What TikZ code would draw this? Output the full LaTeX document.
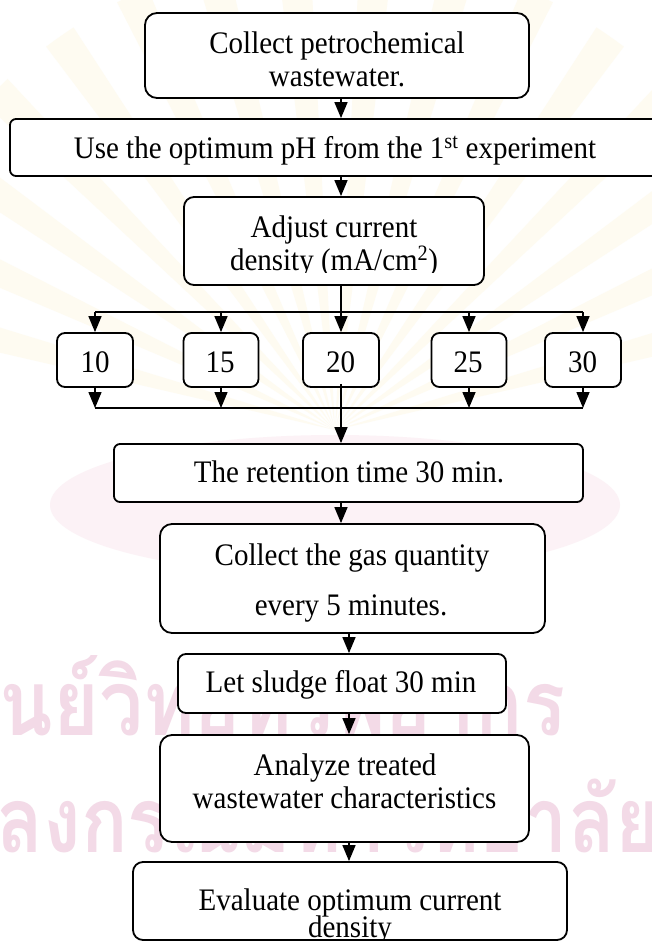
\documentclass[tikz,border=0pt]{standalone}
\usepackage{fontspec}
\setmainfont{Liberation Serif}
\newfontfamily\thaifont[Script=Thai]{Loma}
\usetikzlibrary{arrows.meta}
\definecolor{wmpink}{RGB}{243,218,231}
\definecolor{wmpale}{RGB}{252,242,246}
\definecolor{wmgold}{RGB}{254,251,241}
\newcommand\vs[1]{\scalebox{1}[1.08]{#1}}
\begin{document}
\begin{tikzpicture}[x=1pt,y=-1pt,
  box/.style={draw=black, line width=1.8pt, fill=white, rounded corners=#1, inner sep=0pt},
  box/.default=10pt,
  conn/.style={line width=1.5pt},
  arr/.style={conn, -{Triangle[width=13pt,length=16pt]}},
  txt/.style={font=\fontsize{29}{32}\selectfont, inner sep=0pt, anchor=base},
  wm/.style={font=\thaifont\bfseries\fontsize{60}{60}\selectfont, text=wmpink, inner sep=0pt, anchor=base west},
]
\useasboundingbox (0,0) rectangle (651,942);
\fill[white] (0,0) rectangle (651,942);
% faint watermark (emblem and university name)
\foreach \a in {195,205,...,345}{
  \fill[wmgold] (335,430) -- ++(\a-2:480) arc[start angle=\a-2, end angle=\a+2, radius=480] -- cycle;
}
\fill[wmpale] (335,505) ellipse [x radius=285, y radius=70];
\node[wm] (wm1) at (-50,735) {\resizebox{615pt}{80pt}{ศูนย์วิทยทรัพยากร}};
\node[wm] (wm2) at (-145,852) {\resizebox{805pt}{80pt}{จุฬาลงกรณ์มหาวิทยาลัย}};

% boxes
\node[box=12pt, minimum width=384pt, minimum height=85pt] (b1) at (337,55.5) {};
\node[box=6pt, minimum width=652pt, minimum height=57pt] (b2) at (336,147.5) {};
\node[box=10pt, minimum width=300pt, minimum height=88pt] (b3) at (334,241) {};
\node[box=8pt, minimum width=76pt, minimum height=54pt] (n10) at (95,360) {};
\node[box=8pt, minimum width=75pt, minimum height=54pt] (n15) at (221,360) {};
\node[box=8pt, minimum width=76pt, minimum height=54pt] (n20) at (341,360) {};
\node[box=8pt, minimum width=75pt, minimum height=54pt] (n25) at (469,360) {};
\node[box=8pt, minimum width=76pt, minimum height=54pt] (n30) at (583,360) {};
\node[box=6pt, minimum width=469pt, minimum height=58pt] (ret) at (348.5,473) {};
\node[box=12pt, minimum width=385pt, minimum height=109pt] (gas) at (352.5,578.5) {};
\node[box=8pt, minimum width=328pt, minimum height=59pt] (sl) at (342,683.5) {};
\node[box=12pt, minimum width=369pt, minimum height=107pt] (an) at (344.5,788.5) {};
\node[box=10pt, minimum width=434pt, minimum height=78pt] (ev) at (350,901) {};

% texts
\node[txt] (t1a) at (337,54) {\vs{Collect petrochemical}};
\node[txt] (t1b) at (337,86) {\vs{wastewater.}};
\node[txt] (t2) at (335,158) {\vs{Use the optimum pH from the 1\textsuperscript{st} experiment}};
\node[txt] (t3a) at (334,237) {\vs{Adjust current}};
\begin{scope}
  \clip (184,200) rectangle (484,272);
  \node[txt] (t3b) at (334,270) {\vs{density (mA/cm\textsuperscript{2})}};
\end{scope}
\node[txt] (l10) at (95,372) {\vs{10}};
\node[txt] (l15) at (220,372) {\vs{15}};
\node[txt] (l20) at (340.5,372) {\vs{20}};
\node[txt] (l25) at (468,372) {\vs{25}};
\node[txt] (l30) at (582.5,372) {\vs{30}};
\node[txt] (tr) at (349,482) {\vs{The retention time 30 min.}};
\node[txt] (tg1) at (352,565) {\vs{Collect the gas quantity}};
\node[txt] (tg2) at (351,615) {\vs{every 5 minutes.}};
\node[txt] (ts) at (341,692) {\vs{Let sludge float 30 min}};
\node[txt] (ta1) at (345,775) {\vs{Analyze treated}};
\node[txt] (ta2) at (344.5,808) {\vs{wastewater characteristics}};
\node[txt] (te1) at (350,910) {\vs{Evaluate optimum current}};
\begin{scope}
  \clip (133,880) rectangle (567,938);
  \node[txt] (te2) at (350,937) {\vs{density}};
\end{scope}

% connectors
\coordinate (top) at (341,312);
\coordinate (bot) at (341,408);
\coordinate (lx) at (349,0);
\draw[arr] (b1.south -| top) -- (b2.north -| top);
\draw[arr] (b2.south -| top) -- (b3.north -| top);
\draw[conn] (b3.south -| top) -- (top);
\draw[conn] (n10.north |- top) -- (n30.north |- top);
\foreach \n in {n10,n15,n20,n25,n30}{
  \draw[arr] (\n.north |- top) -- (\n.north);
}
\foreach \n in {n10,n15,n25,n30}{
  \draw[arr] (\n.south) -- (\n.south |- bot);
}
\draw[conn] (n10.south |- bot) -- (n30.south |- bot);
\draw[arr] ([yshift=4pt]n20.south) -- (n20.south |- ret.north);
\draw[arr] (ret.south -| top) -- (gas.north -| top);
\draw[arr] (gas.south -| lx) -- (sl.north -| lx);
\draw[arr] (sl.south -| lx) -- (an.north -| lx);
\draw[arr] (an.south -| lx) -- (ev.north -| lx);
\end{tikzpicture}
\end{document}
